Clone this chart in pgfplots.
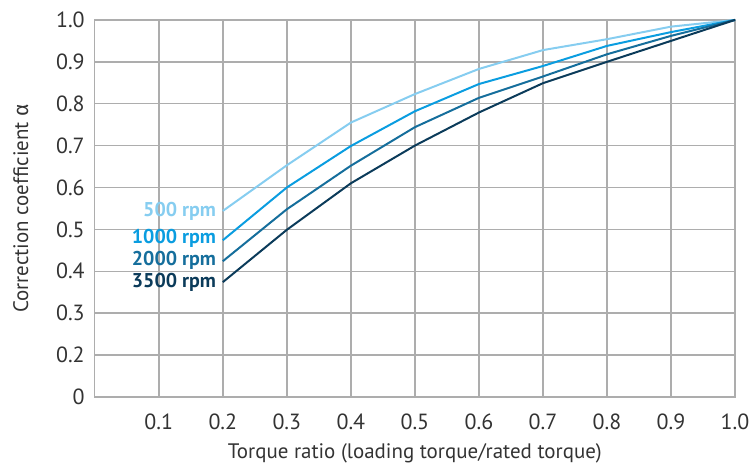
\documentclass[border=0pt]{standalone}
\usepackage{pgfplots}
\pgfplotsset{compat=1.18}
\usepackage{fontspec}
\setmainfont{PT Sans}
\newfontfamily\greekfont{Fira Sans}
\definecolor{gridgray}{HTML}{ADADAD}
\definecolor{cA}{HTML}{86CDF0}
\definecolor{cB}{HTML}{0A9DE0}
\definecolor{cC}{HTML}{156E9C}
\definecolor{cD}{HTML}{0B3B5A}
\definecolor{txt}{HTML}{333333}
\pgfplotstableread{
x a b c d
0.2 0.544 0.474 0.424 0.374
0.3 0.653 0.600 0.548 0.499
0.4 0.755 0.699 0.652 0.610
0.5 0.823 0.782 0.744 0.700
0.6 0.883 0.847 0.814 0.779
0.7 0.928 0.890 0.865 0.849
0.8 0.954 0.938 0.918 0.900
0.9 0.984 0.971 0.962 0.950
1.0 1.000 1.000 1.000 1.000
}\data
\begin{document}
\begin{tikzpicture}
\begin{axis}[
  scale only axis,
  width=321pt, height=189pt,
  xmin=0, xmax=1.0, ymin=0.1, ymax=1.0,
  xtick={0.1,0.2,0.3,0.4,0.5,0.6,0.7,0.8,0.9,1.0},
  xticklabels={0.1,0.2,0.3,0.4,0.5,0.6,0.7,0.8,0.9,1.0},
  ytick={0.1,0.2,0.3,0.4,0.5,0.6,0.7,0.8,0.9,1.0},
  yticklabels={0,0.2,0.3,0.4,0.5,0.6,0.7,0.8,0.9,1.0},
  major tick length=0pt,
  grid=major,
  grid style={gridgray, line width=0.75pt},
  axis line style={gridgray, line width=0.75pt},
  tick label style={font=\fontsize{11}{13}\selectfont, text=txt},
  xticklabel style={yshift=-5pt},
  yticklabel style={xshift=-1.5pt},
  xlabel={Torque ratio (loading torque/rated torque)},
  ylabel={Correction coefficient {\greekfont α}},
  label style={font=\fontsize{10.5}{12}\selectfont, text=txt},
  xlabel style={yshift=0pt},
  ylabel style={yshift=7pt},
  clip=false,
]
\addplot[cA, line width=1pt] table[x=x, y=a] {\data};
\addplot[cB, line width=1pt] table[x=x, y=b] {\data};
\addplot[cC, line width=1pt] table[x=x, y=c] {\data};
\addplot[cD, line width=1pt] table[x=x, y=d] {\data};
\node[anchor=east, text=cA, font=\fontsize{10}{12}\selectfont\bfseries, inner sep=0pt] at (axis cs:0.19,0.543) {500 rpm};
\node[anchor=east, text=cB, font=\fontsize{10}{12}\selectfont\bfseries, inner sep=0pt] at (axis cs:0.19,0.478) {1000 rpm};
\node[anchor=east, text=cC, font=\fontsize{10}{12}\selectfont\bfseries, inner sep=0pt] at (axis cs:0.19,0.426) {2000 rpm};
\node[anchor=east, text=cD, font=\fontsize{10}{12}\selectfont\bfseries, inner sep=0pt] at (axis cs:0.19,0.374) {3500 rpm};
\end{axis}
\path ([yshift=10pt]current axis.north);
\path ([xshift=-47.5pt]current axis.south west);
\end{tikzpicture}
\end{document}
